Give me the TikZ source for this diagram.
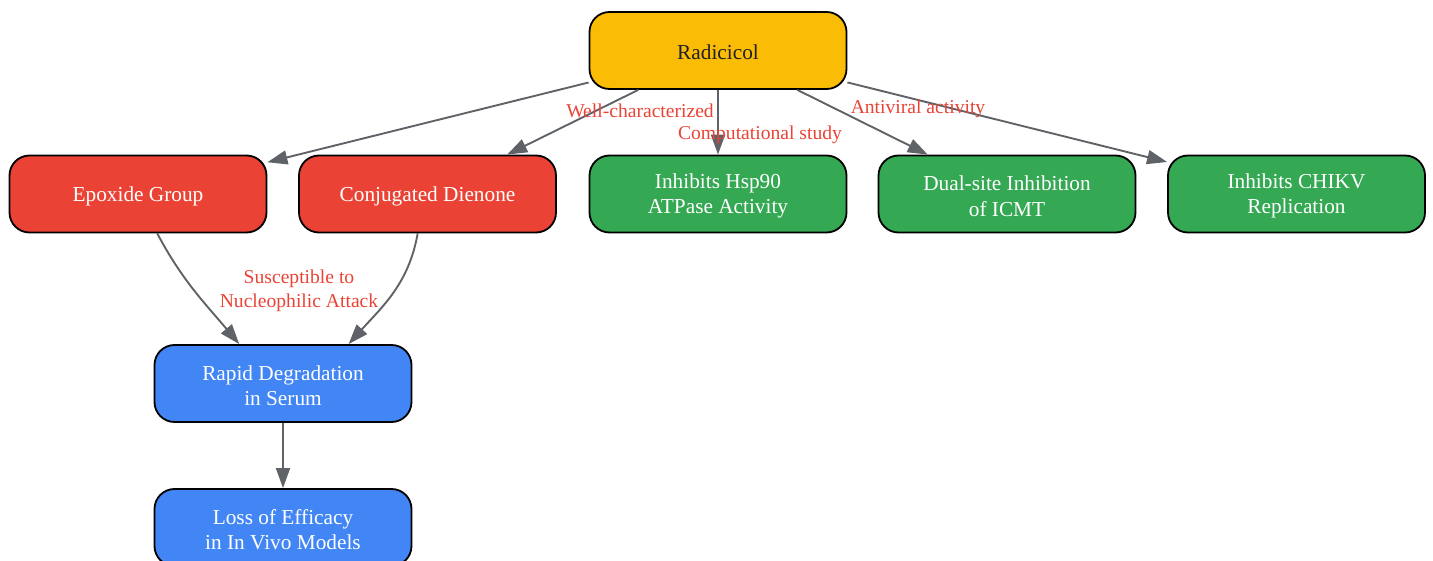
\documentclass[tikz,border=0pt]{standalone}
\usepackage{fontspec}
\setmainfont{Liberation Serif}
\usetikzlibrary{arrows.meta}
\definecolor{gred}{HTML}{EA4335}
\definecolor{ggreen}{HTML}{34A853}
\definecolor{gblue}{HTML}{4285F4}
\definecolor{gyellow}{HTML}{FBBC05}
\definecolor{gedge}{HTML}{5F6368}
\definecolor{gtext}{HTML}{202124}
\tikzset{
  box/.style={draw=black, line width=1.8pt, rounded corners=20pt, minimum width=257pt, minimum height=77pt,
    inner sep=0pt},
  boxtext/.style={align=center, text=white, inner sep=0pt, yshift=-2pt, font=\fontsize{21.3}{25.5}\selectfont},
  redbox/.style={box, fill=gred},
  greenbox/.style={box, fill=ggreen},
  bluebox/.style={box, fill=gblue},
  yellowbox/.style={box, fill=gyellow},
  edge/.style={draw=gedge, line width=1.9pt, -{Triangle[length=20pt,width=14pt]}},
  elabel/.style={text=gred, align=center, font=\fontsize{19.6}{24}\selectfont, inner sep=0pt}
}
\begin{document}
\begin{tikzpicture}[x=1pt,y=1pt]
\useasboundingbox (0,0) rectangle (1433,-561);
\node[yellowbox, label={[boxtext, text=gtext]center:Radicicol}] (rad) at (718,-50.5) {};
\node[redbox, label={[boxtext]center:Epoxide Group}] (epo) at (138,-194) {};
\node[redbox, label={[boxtext]center:Conjugated Dienone}] (dien) at (427.5,-194) {};
\node[greenbox, label={[boxtext]center:Inhibits Hsp90\\ATPase Activity}] (hsp) at (718,-194) {};
\node[greenbox, label={[boxtext]center:Dual-site Inhibition\\of ICMT}] (icmt) at (1007,-194) {};
\node[greenbox, label={[boxtext]center:Inhibits CHIKV\\Replication}] (chikv) at (1296.5,-194) {};
\node[bluebox, label={[boxtext]center:Rapid Degradation\\in Serum}] (deg) at (283,-383.5) {};
\node[bluebox, label={[boxtext]center:Loss of Efficacy\\in In Vivo Models}] (loss) at (283,-527.5) {};

\draw[edge] (rad) -- (epo);
\draw[edge] (rad) -- (dien);
\draw[edge] (rad) -- (hsp);
\draw[edge] (rad) -- (icmt);
\draw[edge] (rad) -- (chikv);
\draw[edge] (epo.-64) to[out=-62,in=130] (deg.138);
\draw[edge] (dien.-104) to[out=-100,in=48] (deg.31);
\draw[edge] (deg) -- (loss);

\node[elabel] (l1) at (640,-111) {Well-characterized};
\node[elabel] (l2) at (760,-135) {Computational study};
\node[elabel] (l3) at (918,-109) {Antiviral activity};
\node[elabel] (l4) at (299,-290.5) {Susceptible to\\Nucleophilic Attack};
\end{tikzpicture}
\end{document}
